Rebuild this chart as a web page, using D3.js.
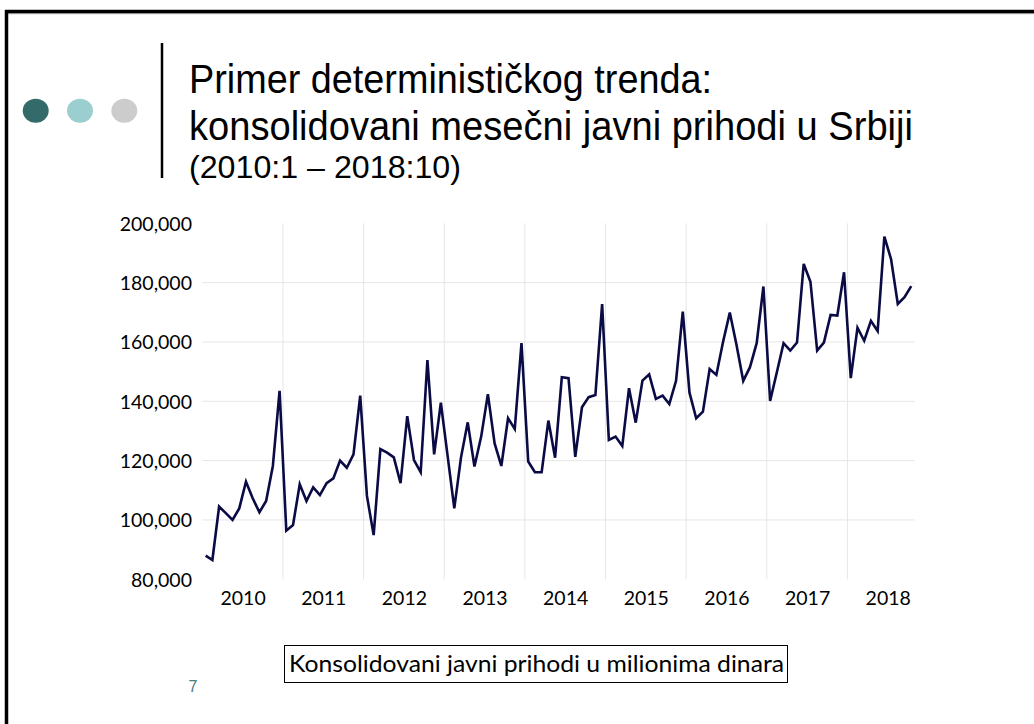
<!DOCTYPE html>
<html>
<head>
<meta charset="utf-8">
<script src="https://cdn.jsdelivr.net/npm/d3@7"></script>
<style>
  html, body { margin: 0; padding: 0; background: #ffffff; }
  svg { display: block; }
</style>
</head>
<body>
<svg id="chart" width="1034" height="724"></svg>
<script>
// ---- Data ----
const years = ["2010","2011","2012","2013","2014","2015","2016","2017","2018"];
const values2010 = [88000, 86500, 104500, 102300, 100000, 103900, 112900, 107300, 102600, 106400, 118200, 143500];
const values2011 = [96400, 98300, 112000, 106400, 111000, 108400, 112400, 114000, 120000, 117600, 122100, 141900];
const values2012 = [108100, 94900, 123900, 122700, 121100, 112400, 135000, 120200, 116100, 153900, 122100, 139500];
const values2013 = [121700, 103900, 121100, 132900, 118000, 128100, 142400, 125800, 118200, 134300, 130700, 159600];
const values2014 = [119700, 116100, 116100, 133500, 121000, 148100, 147800, 121300, 138000, 141400, 142100, 172800];
const values2015 = [127000, 128100, 124900, 144400, 132800, 147000, 149100, 140800, 141900, 139100, 146900, 170200];
const values2016 = [142900, 134300, 136500, 150900, 148900, 160100, 169900, 159000, 146900, 151500, 159600, 178700];
const values2017 = [140100, 149800, 159600, 157100, 159800, 186300, 180300, 157100, 159800, 169100, 168900, 183500];
const values2018 = [147800, 164800, 160400, 167100, 163700, 195500, 187900, 172800, 175100, 178800];
const yTicks = [80000, 100000, 120000, 140000, 160000, 180000, 200000];
const yGridTicks = [100000, 120000, 140000, 160000, 180000];

const titleLines = ["Primer determinističkog trenda:", "konsolidovani mesečni javni prihodi u Srbiji"];
const subtitle = "(2010:1 – 2018:10)";
const caption = "Konsolidovani javni prihodi u milionima dinara";
const pageNumber = "7";
const dotColors = ["#346a69", "#9bcecf", "#cccccc"];

const series = [].concat(values2010, values2011, values2012, values2013, values2014,
                         values2015, values2016, values2017, values2018);

// ---- Drawing ----
const svg = d3.select("#chart");

// slide frame
svg.append("line").attr("x1", 5).attr("x2", 1034).attr("y1", 13.5).attr("y2", 13.5)
  .attr("stroke", "#bbbbbb").attr("stroke-width", 1.5);
svg.append("line").attr("x1", 5).attr("x2", 1034).attr("y1", 11.5).attr("y2", 11.5)
  .attr("stroke", "#000").attr("stroke-width", 3.5);
svg.append("line").attr("x1", 6.5).attr("x2", 6.5).attr("y1", 10).attr("y2", 724)
  .attr("stroke", "#000").attr("stroke-width", 3.5);

// decorative dots
const dotX = d3.scaleLinear().domain([0, 2]).range([35.7, 124.3]);
svg.selectAll("ellipse.dot").data(dotColors).enter().append("ellipse")
  .attr("class", "dot")
  .attr("cx", (d, i) => dotX(i)).attr("cy", 110.7)
  .attr("rx", 13).attr("ry", 12)
  .attr("fill", d => d);

// vertical title bar
svg.append("line").attr("x1", 162).attr("x2", 162).attr("y1", 43).attr("y2", 178)
  .attr("stroke", "#000").attr("stroke-width", 2.5);

// title
svg.append("text").attr("x", 189).attr("y", 93)
  .attr("font-family", "Liberation Sans, Arial, sans-serif").attr("font-size", 40)
  .attr("textLength", 523).attr("lengthAdjust", "spacingAndGlyphs")
  .attr("fill", "#000").text(titleLines[0]);
svg.append("text").attr("x", 189).attr("y", 140)
  .attr("font-family", "Liberation Sans, Arial, sans-serif").attr("font-size", 40)
  .attr("textLength", 724).attr("lengthAdjust", "spacingAndGlyphs")
  .attr("fill", "#000").text(titleLines[1]);
svg.append("text").attr("x", 189).attr("y", 178)
  .attr("font-family", "Liberation Sans, Arial, sans-serif").attr("font-size", 31)
  .attr("textLength", 272).attr("lengthAdjust", "spacingAndGlyphs")
  .attr("fill", "#000").text(subtitle);

// scales
const nMonths = 12 * years.length - 2; // 106
const x = d3.scaleLinear().domain([0, 12 * years.length - 2]).range([202.3, 914.6]);
const y = d3.scaleLinear().domain([80000, 200000]).range([579.3, 223.3]);

const plot = svg.append("g");

// horizontal gridlines
plot.selectAll("line.hgrid").data(yGridTicks).enter().append("line")
  .attr("class", "hgrid")
  .attr("x1", x(0)).attr("x2", x(nMonths))
  .attr("y1", d => y(d)).attr("y2", d => y(d))
  .attr("stroke", "#e6e6e6").attr("stroke-width", 1);

// vertical gridlines (year boundaries)
const yearBounds = years.slice(1).map((yr, i) => (i + 1) * 12);
plot.selectAll("line.vgrid").data(yearBounds).enter().append("line")
  .attr("class", "vgrid")
  .attr("x1", d => x(d)).attr("x2", d => x(d))
  .attr("y1", y(200000)).attr("y2", y(80000))
  .attr("stroke", "#e6e6e6").attr("stroke-width", 1);

// y axis labels
const yAxis = d3.axisLeft(y).tickValues(yTicks).tickSize(0).tickPadding(0)
  .tickFormat(d3.format(","));
const yg = svg.append("g").attr("transform", "translate(192,0)").call(yAxis);
yg.select(".domain").remove();
yg.selectAll("text").attr("font-family", "Lato, 'Open Sans', sans-serif")
  .attr("font-size", 19.5).attr("fill", "#000").attr("dy", "0.35em");

// x axis labels (year centres)
const xAxis = d3.axisBottom(x).tickValues(years.map((yr, i) => i * 12 + 6))
  .tickSize(0).tickPadding(0).tickFormat((d, i) => years[i]);
const xg = svg.append("g").attr("transform", "translate(0,598)").call(xAxis);
xg.select(".domain").remove();
xg.selectAll("text").attr("font-family", "Lato, 'Open Sans', sans-serif")
  .attr("font-size", 19.5).attr("fill", "#000").attr("dy", "0.35em");

// series line
const line = d3.line().x((d, i) => x(i + 0.5)).y(d => y(d));
plot.append("path").datum(series)
  .attr("d", line).attr("fill", "none")
  .attr("stroke", "#0a0a45").attr("stroke-width", 2.6)
  .attr("stroke-linejoin", "miter").attr("stroke-miterlimit", 4);

// caption box
svg.append("rect").attr("x", 284.5).attr("y", 645.5).attr("width", 503).attr("height", 37)
  .attr("fill", "none").attr("stroke", "#000").attr("stroke-width", 1);
svg.append("text").attr("x", 289).attr("y", 671.5)
  .attr("font-family", "Lato, 'Open Sans', sans-serif").attr("font-size", 24)
  .attr("textLength", 495).attr("lengthAdjust", "spacingAndGlyphs")
  .attr("fill", "#000").text(caption);

// page number
svg.append("text").attr("x", 193).attr("y", 692).attr("text-anchor", "middle")
  .attr("font-family", "Liberation Sans, Arial, sans-serif").attr("font-size", 16)
  .attr("fill", "#4a7b7b").text(pageNumber);
</script>
</body>
</html>
